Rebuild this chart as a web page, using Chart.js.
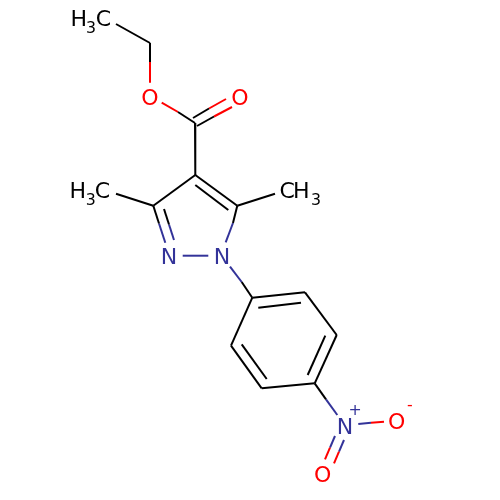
<!DOCTYPE html>
<html>
<head>
    <title>Ethyl 3,5-dimethyl-1-(4-nitrophenyl)pyrazole-4-carboxylate</title>
    <style>
        html, body { margin: 0; padding: 0; background: #fff; }
        canvas { display: block; }
    </style>
</head>
<body>
    <canvas id="myChart" width="500" height="500"></canvas>

    <script src="https://cdn.jsdelivr.net/npm/chart.js"></script>
    <script>
        // bond pieces as [x1, y1, x2, y2] (y runs downwards)
        const blackBonds = [
            [116, 24, 150, 43], [150, 43, 150, 62],
            [178, 112, 195, 123],
            [193, 118, 209, 108.5], [197, 126, 214, 116.5],
            [195, 123, 195.3, 175],
            [195.3, 175, 153.3, 205.7], [195.3, 175, 237.3, 205.7],
            [195.3, 185, 228.3, 210],
            [116, 193.7, 153.3, 205.7], [275, 193.7, 237.3, 205.7],
            [153.3, 205.7, 159, 223.5], [164, 209, 169, 224.5],
            [237.3, 205.7, 233, 223],
            [241.7, 282, 252.3, 297.7],
            [252.3, 297.7, 305, 292.3], [305, 292.3, 336.7, 335],
            [336.7, 335, 314.7, 383.3], [314.7, 383.3, 261.7, 388.3],
            [261.7, 388.3, 231, 345.7], [231, 345.7, 252.3, 297.7],
            [258.3, 307.7, 301, 302.7], [325.3, 335.7, 307.7, 375],
            [266.7, 379, 241.7, 344.3],
            [314.7, 383.3, 326, 399.3]
        ];
        const redBonds = [
            [150, 62, 150, 82.7], [161.7, 102.7, 178, 112],
            [209, 108.5, 226, 99], [214, 116.5, 232, 107],
            [371, 422.7, 384, 421.7],
            [330, 447.7, 325, 459.3], [339, 451.7, 334, 463.3]
        ];
        const blueBonds = [
            [159, 223.5, 165.3, 242.7], [169, 224.5, 174, 240],
            [182.7, 255.7, 208.3, 255.7],
            [233, 223, 225.7, 242.3],
            [230, 266.7, 241.7, 282],
            [326, 399.3, 337.3, 415],
            [358.3, 424, 371, 422.7],
            [335, 436, 330, 447.7], [344, 440, 339, 451.7]
        ];

        // atom labels: text, colour, x, y and which font size slot
        const atomLabels = [
            ['H', 'black', 70.5, 26, 'big'], ['3', 'black', 86, 32.5, 'small'], ['C', 'black', 95.8, 26, 'big'],
            ['H', 'black', 69.5, 197.7, 'big'], ['3', 'black', 85.8, 204.5, 'small'], ['C', 'black', 94.8, 197.7, 'big'],
            ['C', 'black', 279.5, 197.7, 'big'], ['H', 'black', 293, 197.7, 'big'], ['3', 'black', 311, 204.5, 'small'],
            ['O', 'red', 141.3, 105, 'big'], ['O', 'red', 231.3, 105, 'big'],
            ['N', 'blue', 160.8, 263.5, 'big'], ['N', 'blue', 213.8, 263.5, 'big'],
            ['N', 'blue', 336.8, 434, 'big'], ['+', 'blue', 348.6, 414.5, 'small'],
            ['O', 'red', 388, 429, 'big'], ['-', 'red', 407.1, 410, 'small'],
            ['O', 'red', 314, 482, 'big']
        ];

        const colors = { black: '#000000', red: '#ff0000', blue: '#333399' };
        const fontSizes = { big: 21, small: 15 };
        const textStretch = 1.05; // the letters in the picture are a bit wider than normal

        function bondSets(bonds, color) {
            return bonds.map(b => ({
                data: [{ x: b[0], y: b[1] }, { x: b[2], y: b[3] }],
                showLine: true,
                borderColor: color,
                borderWidth: 2,
                pointRadius: 0,
                fill: false
            }));
        }

        // writes the atom symbols through the chart scales
        const atomLabelPlugin = {
            id: 'atomLabels',
            afterDatasetsDraw(chart) {
                const c = chart.ctx;
                atomLabels.forEach(l => {
                    c.save();
                    c.textAlign = 'left';
                    c.textBaseline = 'alphabetic';
                    c.font = fontSizes[l[4]] + 'px "DejaVu Sans"';
                    c.fillStyle = colors[l[1]];
                    c.translate(chart.scales.x.getPixelForValue(l[2]), chart.scales.y.getPixelForValue(l[3]));
                    c.scale(textStretch, 1);
                    c.fillText(l[0], 0, 0);
                    c.restore();
                });
            }
        };

        new Chart(document.getElementById('myChart'), {
            type: 'scatter',
            data: {
                datasets: [
                    ...bondSets(blackBonds, colors.black),
                    ...bondSets(redBonds, colors.red),
                    ...bondSets(blueBonds, colors.blue)
                ]
            },
            options: {
                responsive: false,
                animation: false,
                layout: { padding: 0 },
                plugins: { legend: { display: false }, tooltip: { enabled: false } },
                scales: {
                    x: { type: 'linear', display: false, min: 0, max: 500 },
                    y: { type: 'linear', display: false, min: 0, max: 500, reverse: true }
                }
            },
            plugins: [atomLabelPlugin]
        });
    </script>
</body>
</html>
